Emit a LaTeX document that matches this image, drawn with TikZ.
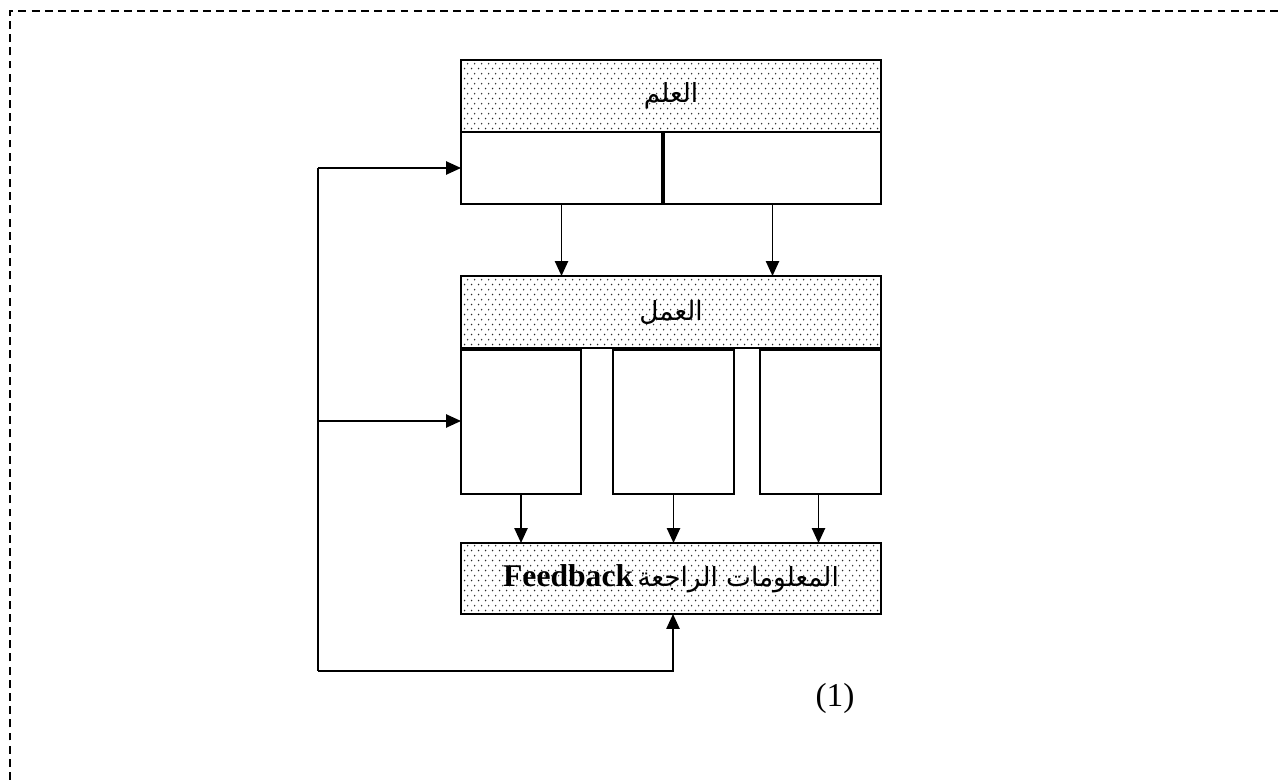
\documentclass[tikz,border=0pt]{standalone}
\usepackage{fontspec}
\setmainfont{Liberation Serif}
\newfontfamily\arabicfont[Script=Arabic]{DejaVu Sans}
\TeXXeTstate=1
\usetikzlibrary{arrows.meta,patterns.meta}
\tikzdeclarepattern{
  name=softdots,
  type=uncolored,
  bottom left={(0pt,0pt)},
  top right={(4pt,5.6pt)},
  tile size={(4pt,5.6pt)},
  code={
    \fill (1pt,1.4pt) circle[radius=0.5pt];
    \fill (3pt,4.2pt) circle[radius=0.5pt];
  }
}
\tikzset{
  plainbox/.style={draw, line width=1.1pt, rectangle, inner sep=0pt, outer sep=0pt},
  dotbox/.style={plainbox, pattern=softdots, pattern color=black!85},
  arr/.style={line width=1pt, -{Triangle[length=8.5pt,width=7.5pt]}},
  link/.style={line width=1pt},
  frame/.style={line width=0.8pt, dash pattern=on 4.5pt off 3pt},
  artxt/.style={font=\arabicfont\fontsize{15}{18}\selectfont},
}
\begin{document}
\begin{tikzpicture}[x=0.02cm,y=-0.02cm]
\useasboundingbox (0,0) rectangle (1279,780);
\draw[frame] (10,780) -- (10,11) -- (1279,11);

\node[dotbox, minimum width=8.4cm, minimum height=1.44cm] (sci) at (671,96) {};
\node[artxt] at (sci.center) {\beginR العلم\endR};
\node[plainbox, minimum width=4.02cm, minimum height=1.44cm] (sL) at (561.5,168) {};
\node[plainbox, minimum width=4.34cm, minimum height=1.44cm] (sR) at (772.5,168) {};

\node[dotbox, minimum width=8.4cm, minimum height=1.44cm] (work) at (671,312) {};
\node[artxt] at (work.center) {\beginR العمل\endR};
\node[plainbox, minimum width=2.4cm, minimum height=2.88cm] (w1) at (521,422) {};
\node[plainbox, minimum width=2.42cm, minimum height=2.88cm] (w2) at (673.5,422) {};
\node[plainbox, minimum width=2.42cm, minimum height=2.88cm] (w3) at (820.5,422) {};

\node[dotbox, minimum width=8.4cm, minimum height=1.42cm] (fb) at (671,578.5) {};
\node at (fb.center) {{\fontsize{18}{20}\selectfont\bfseries Feedback}\ {\arabicfont\fontsize{15}{18}\selectfont\beginR المعلومات الراجعة\endR}};

\node[font=\fontsize{19}{22}\selectfont] (lbl) at (835,698) {(1)};

\draw[arr] (sL.south) -- (sL.south |- work.north);
\draw[arr] (sR.south) -- (sR.south |- work.north);
\draw[arr] (w1.south) -- (w1.south |- fb.north);
\draw[arr] (w2.south) -- (w2.south |- fb.north);
\draw[arr] ([xshift=-0.04cm]w3.south) -- ([xshift=-0.04cm]w3.south |- fb.north);

\coordinate (ltop) at (318,168);
\coordinate (lmid) at (318,421);
\coordinate (lbot) at (318,671);
\coordinate (lend) at (673,671);
\draw[link] (lbot) -- (ltop);
\draw[arr] (ltop) -- (sL.west);
\draw[arr] (lmid) -- (lmid -| w1.west);
\draw[arr] (lbot) -- (lend) -- (lend |- fb.south);
\end{tikzpicture}
\end{document}
